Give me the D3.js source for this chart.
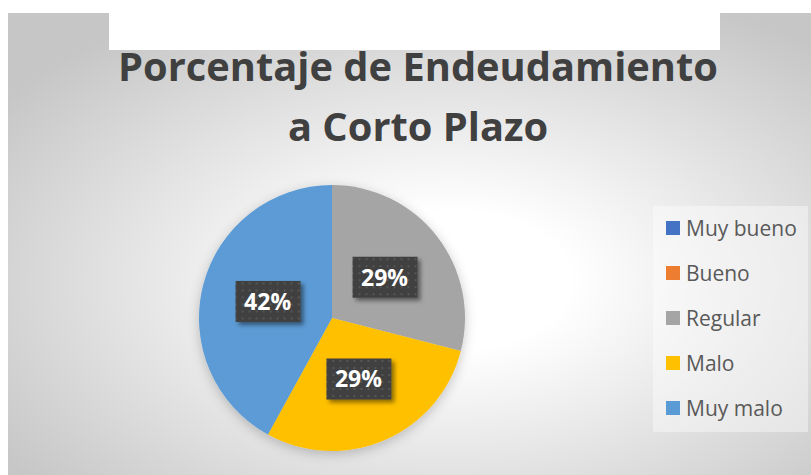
<!DOCTYPE html>
<html lang="es">
<head>
    <meta charset="UTF-8">
    <title>Porcentaje de Endeudamiento a Corto Plazo</title>
    <script src="https://d3js.org/d3.v7.min.js"></script>
    <style>
        body {
            margin: 0;
            background: #ffffff;
            font-family: "Open Sans", "Noto Sans", Arial, sans-serif;
        }
        svg { display: block; }
    </style>
</head>
<body>
    <svg id="chart"></svg>

    <script>
        // Data
        const categories = ["Muy bueno", "Bueno", "Regular", "Malo", "Muy malo"];
        const values = [0, 0, 29, 29, 42];
        const colors = ["#4472C4", "#ED7D31", "#A5A5A5", "#FFC000", "#5B9BD5"];
        const titleLines = ["Porcentaje de Endeudamiento", "a Corto Plazo"];

        const width = 811;
        const height = 475;

        const svg = d3.select("#chart")
            .attr("width", width)
            .attr("height", height);

        const defs = svg.append("defs");

        // radial background of the chart area
        const grad = defs.append("radialGradient")
            .attr("id", "bg")
            .attr("cx", "55%").attr("cy", "58%").attr("r", "68%");
        grad.append("stop").attr("offset", "0%").attr("stop-color", "#ffffff");
        grad.append("stop").attr("offset", "22%").attr("stop-color", "#ffffff");
        grad.append("stop").attr("offset", "100%").attr("stop-color", "#c6c6c6");

        // dotted texture for the data labels
        const pat = defs.append("pattern")
            .attr("id", "dots")
            .attr("width", 7).attr("height", 7)
            .attr("patternUnits", "userSpaceOnUse");
        pat.append("rect").attr("width", 7).attr("height", 7).attr("fill", "#404040");
        pat.append("rect").attr("x", 2).attr("y", 2).attr("width", 2).attr("height", 2).attr("fill", "#565656");

        const pieShadow = defs.append("filter").attr("id", "pieShadow")
            .attr("x", "-20%").attr("y", "-20%").attr("width", "140%").attr("height", "140%");
        pieShadow.append("feDropShadow")
            .attr("dx", 0).attr("dy", 3).attr("stdDeviation", 6)
            .attr("flood-color", "#000").attr("flood-opacity", 0.22);

        const labelShadow = defs.append("filter").attr("id", "labelShadow")
            .attr("x", "-30%").attr("y", "-30%").attr("width", "160%").attr("height", "160%");
        labelShadow.append("feDropShadow")
            .attr("dx", 3).attr("dy", 3).attr("stdDeviation", 2)
            .attr("flood-color", "#000").attr("flood-opacity", 0.45);

        // chart area
        svg.append("rect")
            .attr("x", 8).attr("y", 13)
            .attr("width", width - 8).attr("height", height - 13)
            .attr("fill", "url(#bg)");

        svg.append("rect")
            .attr("x", 109).attr("y", 0)
            .attr("width", 611).attr("height", 50)
            .attr("fill", "#ffffff");

        // title
        const titleCx = 418;
        const titleBase = [81, 141];
        const titleText = svg.selectAll(".title")
            .data(titleLines)
            .enter()
            .append("text")
            .attr("class", "title")
            .attr("text-anchor", "middle")
            .attr("font-size", 40)
            .attr("font-weight", "bold")
            .attr("fill", "#404040")
            .text(d => d);
        const w1 = titleText.nodes()[0].getComputedTextLength();
        const k = 600 / w1;
        titleText.attr("transform", (d, i) => `translate(${titleCx},${titleBase[i]}) scale(${k},1)`);

        // pie
        const cx = 332, cy = 318, radius = 133;
        const data = categories.map((c, i) => ({ name: c, value: values[i], color: colors[i] }));
        const pie = d3.pie().sort(null).value(d => d.value);
        const arc = d3.arc().innerRadius(0).outerRadius(radius);
        const arcs = pie(data);

        const g = svg.append("g").attr("transform", `translate(${cx},${cy})`);
        g.append("g")
            .attr("filter", "url(#pieShadow)")
            .selectAll("path")
            .data(arcs)
            .enter()
            .append("path")
            .attr("d", arc)
            .attr("fill", d => d.data.color);

        // data labels
        const lab = g.selectAll(".lab")
            .data(arcs.filter(d => d.data.value > 0))
            .enter()
            .append("g")
            .attr("class", "lab")
            .attr("transform", d => `translate(${arc.centroid(d)})`);
        lab.append("rect")
            .attr("x", -32).attr("y", -20.5)
            .attr("width", 65).attr("height", 41)
            .attr("fill", "url(#dots)")
            .attr("filter", "url(#labelShadow)");
        lab.append("text")
            .attr("text-anchor", "middle")
            .attr("dy", "0.36em")
            .attr("font-size", 23)
            .attr("font-weight", "bold")
            .attr("fill", "#ffffff")
            .text(d => d.data.value + "%");

        // legend
        svg.append("rect")
            .attr("x", 653).attr("y", 206)
            .attr("width", 155).attr("height", 226)
            .attr("fill", "#ffffff").attr("fill-opacity", 0.4);

        const legend = svg.selectAll(".legend")
            .data(data)
            .enter()
            .append("g")
            .attr("class", "legend")
            .attr("transform", (d, i) => `translate(666,${228 + i * 45})`);
        legend.append("rect")
            .attr("x", 0).attr("y", -7)
            .attr("width", 14).attr("height", 14)
            .attr("fill", d => d.color);
        legend.append("text")
            .attr("x", 20)
            .attr("dy", "0.36em")
            .attr("font-size", 21)
            .attr("fill", "#595959")
            .text(d => d.name);
    </script>
</body>
</html>
